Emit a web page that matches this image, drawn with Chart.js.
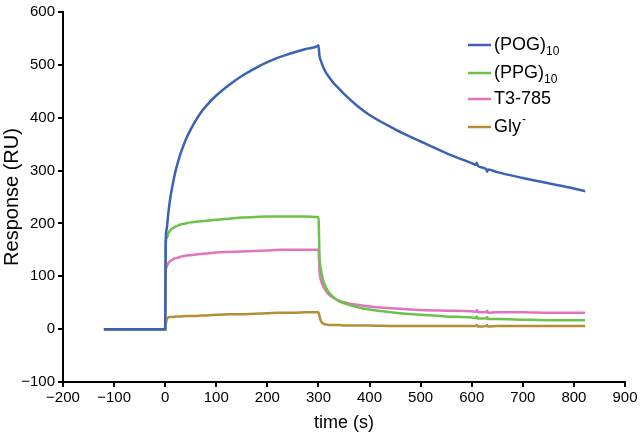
<!DOCTYPE html>
<html>
<head>
<meta charset="utf-8">
<script src="https://cdn.jsdelivr.net/npm/chart.js@4.4.0/dist/chart.umd.min.js"></script>
<style>
  body { margin: 0; background: #fff; }
  #wrap { width: 640px; height: 434px; }
</style>
</head>
<body>
<div id="wrap"><canvas id="c" width="640" height="434"></canvas></div>
<script>
// time (s), shared by every trace
const times = [-120, -60, -1, 0, 1, 3, 6, 10, 15, 20, 25, 30, 40, 50, 60, 70, 80, 100, 125, 150, 175, 200, 225, 250, 275, 299, 300,
  302, 305, 310, 315, 320, 330, 340, 350, 375, 400, 450, 500, 550, 600, 608, 610, 612, 628, 630, 632, 650, 700, 750, 800, 822];

const pog = [0, 0, 0, 0, 165, 190, 218, 248, 275, 298, 316, 332, 358, 378, 395, 410, 422, 442, 462, 479, 493, 505, 515, 523, 530, 536, 537,
  517, 507, 494, 485, 478, 465, 455, 445, 423, 405, 378, 355, 333, 314, 311, 315, 309, 303, 298, 302, 297, 286, 276, 266, 261];
const ppg = [0, 0, 0, 0, 160, 172, 181, 187, 191, 194, 196, 198, 200, 202, 203, 204, 205, 207, 209, 211, 212, 213, 213, 213, 213, 212, 212,
  140, 112, 90, 78, 70, 60, 53, 49, 42, 37, 31, 27, 24, 22, 21, 24, 20, 20, 23, 19, 19, 18, 17, 17, 17];
const t3 = [0, 0, 0, 0, 105, 118, 125, 129, 132, 134, 135, 137, 139, 140, 141, 142, 143, 145, 146, 147, 148, 149, 150, 150, 150, 150, 150,
  110, 92, 80, 72, 66, 59, 54, 51, 46, 43, 39, 36, 35, 34, 33, 36, 32, 32, 35, 31, 32, 32, 31, 31, 31];
const gly = [-1, -1, -1, -1, 8, 18, 22, 23, 23, 24, 24, 24, 25, 25, 25, 26, 26, 27, 28, 28, 29, 30, 31, 31, 32, 32, 32,
  25, 15, 10, 9, 8, 8, 8, 7, 7, 7, 6, 6, 6, 6, 6, 8, 5, 6, 8, 5, 6, 6, 6, 6, 6];

const seriesNames = ['(POG)', '(PPG)', 'T3-785', 'Gly'];
const seriesSub = ['10', '10', '', ''];
const seriesSup = ['', '', '', '-'];
const seriesColors = ['#3a63b8', '#6cc24a', '#e274bd', '#b48d34'];

const xTicks = [-200, -100, 0, 100, 200, 300, 400, 500, 600, 700, 800, 900];
const yTicks = [-100, 0, 100, 200, 300, 400, 500, 600];

const allValues = [pog, ppg, t3, gly];

const minus = v => String(v).replace('-', '\u2212');

// legend with sub/superscripts drawn by hand
const legendPlugin = {
  id: 'subLegend',
  afterDraw(chart) {
    const ctx = chart.ctx;
    ctx.save();
    const rows = [45, 73, 99, 127];
    seriesNames.forEach((name, i) => {
      const y = rows[i];
      ctx.strokeStyle = seriesColors[i];
      ctx.lineWidth = 2.5;
      ctx.beginPath();
      ctx.moveTo(468, y);
      ctx.lineTo(491, y);
      ctx.stroke();
      ctx.fillStyle = '#000';
      ctx.textBaseline = 'middle';
      ctx.font = '18px "Liberation Sans", Arial, sans-serif';
      ctx.fillText(name, 494, y);
      const w = ctx.measureText(name).width;
      if (seriesSub[i]) {
        ctx.font = '12px "Liberation Sans", Arial, sans-serif';
        ctx.fillText(seriesSub[i], 494 + w, y + 7);
      }
      if (seriesSup[i]) {
        ctx.font = '12px "Liberation Sans", Arial, sans-serif';
        ctx.fillText(seriesSup[i], 495 + w, y - 7);
      }
    });
    ctx.restore();
  }
};

new Chart(document.getElementById('c'), {
  type: 'line',
  data: {
    datasets: allValues.map((vals, i) => ({
      label: seriesNames[i],
      data: times.map((t, k) => ({ x: t, y: vals[k] })),
      borderColor: seriesColors[i],
      borderWidth: 2.5,
      pointRadius: 0,
      cubicInterpolationMode: 'monotone',
      fill: false,
    })),
  },
  options: {
    responsive: false,
    animation: false,
    layout: { padding: { top: 6, right: 15, left: 0, bottom: 0 } },
    plugins: { legend: { display: false }, tooltip: { enabled: false } },
    scales: {
      x: {
        type: 'linear',
        min: -200,
        max: 900,
        afterBuildTicks: s => { s.ticks = xTicks.map(v => ({ value: v })); },
        afterFit: s => { s.height = 52; },
        border: { color: '#000', width: 2 },
        grid: { drawOnChartArea: false, color: '#000', lineWidth: 2, tickLength: 5 },
        ticks: { color: '#000', padding: 2, maxRotation: 0, font: { size: 15, family: '"Liberation Sans", Arial' }, callback: v => minus(v) },
        title: { display: true, text: 'time (s)', color: '#000', padding: 0, font: { size: 18, family: '"Liberation Sans", Arial' } },
      },
      y: {
        min: -100,
        max: 600,
        afterBuildTicks: s => { s.ticks = yTicks.map(v => ({ value: v })); },
        afterFit: s => { s.width = 63; },
        border: { color: '#000', width: 2 },
        grid: { drawOnChartArea: false, color: '#000', lineWidth: 2, tickLength: 5 },
        ticks: { color: '#000', padding: 3, font: { size: 15, family: '"Liberation Sans", Arial' }, callback: v => minus(v) },
        title: { display: true, text: 'Response (RU)', color: '#000', padding: 0, font: { size: 20, family: '"Liberation Sans", Arial' } },
      },
    },
  },
  plugins: [legendPlugin],
});
</script>
</body>
</html>
